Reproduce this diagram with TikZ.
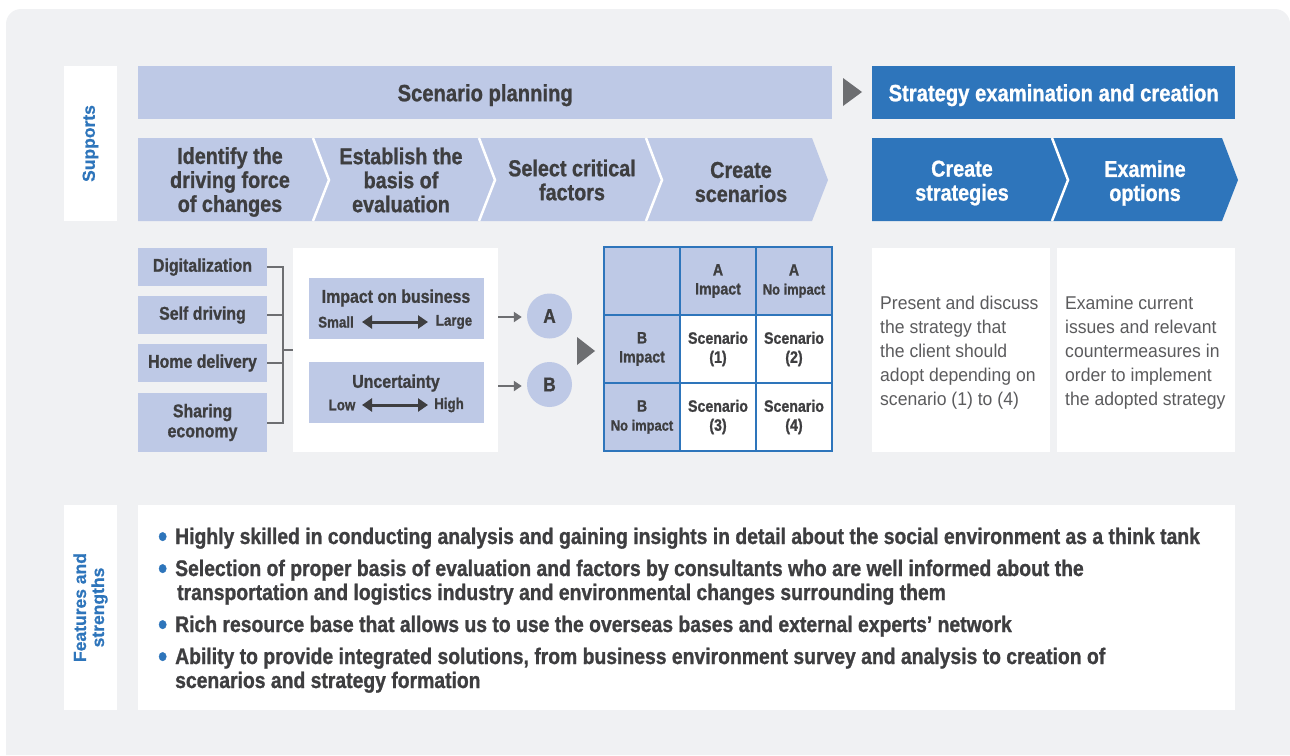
\documentclass[tikz,border=0pt]{standalone}
\usepackage{fontspec}
\setmainfont{Liberation Sans}[BoldFeatures={FakeBold=0.6}]
\newfontfamily\cnd[FakeStretch=0.86, BoldFeatures={FakeBold=1}]{Liberation Sans}
\newfontfamily\lgt[FakeStretch=0.95]{Liberation Sans}
\usetikzlibrary{arrows.meta}

\definecolor{bggrey}{HTML}{F0F1F3}
\definecolor{lav}{HTML}{BEC9E6}
\definecolor{mblue}{HTML}{2E75BB}
\definecolor{dtext}{HTML}{3E3E40}
\definecolor{agrey}{HTML}{6D6E71}

\tikzset{
  lavbox/.style={fill=lav, inner sep=0pt, text=dtext, font=\cnd\bfseries\fontsize{18.5}{20}\selectfont},
  whitebox/.style={fill=white, inner sep=0pt},
  barbox/.style={inner sep=0pt, minimum width=#1, minimum height=53, anchor=north west, text depth=0pt,
    font=\cnd\bfseries\fontsize{23.5}{24}\selectfont},
  chevtext/.style={text=dtext, align=center, font=\cnd\bfseries\fontsize{23}{24}\selectfont},
  sidelabel/.style={whitebox, rotate=90, text=mblue, align=center, font=\bfseries\fontsize{17.5}{18}\selectfont},
  cell/.style={draw=mblue, line width=1.5pt, minimum width=76, minimum height=68, inner sep=0pt,
    align=center, text=dtext, font=\cnd\bfseries\fontsize{16.5}{19}\selectfont},
  smalltext/.style={text=dtext, font=\cnd\bfseries\fontsize{15.5}{17}\selectfont},
  conn/.style={agrey, line width=2pt},
  dblarr/.style={dtext, line width=3pt, {Triangle[width=13pt,length=10pt]}-{Triangle[width=13pt,length=10pt]}},
  bullet/.style={anchor=base west, inner sep=0pt, text=dtext, font=\cnd\bfseries\fontsize{22.5}{24}\selectfont},
  desc/.style={anchor=west, inner sep=0pt, align=left, text=dtext!85, font=\lgt\fontsize{18.5}{24}\selectfont}
}
\newcommand{\dotmark}{\makebox[0pt][r]{\raisebox{-2.5pt}{\textcolor{mblue}{\fontsize{30}{30}\selectfont\textbullet}}\hspace{8pt}}}

\begin{document}
\begin{tikzpicture}[x=1pt, y=-1pt]
\useasboundingbox (0,0) rectangle (1290,755);

% background panel
\fill[bggrey] (6,755) {[rounded corners=15pt] -- (6,9) -- (1290,9)} -- (1290,755) -- cycle;

% side labels
\node[sidelabel, minimum width=155, minimum height=53] (supports) at (90.5,143.5) {Supports};
\node[sidelabel, minimum width=205, minimum height=53] (features) at (90.5,607.5) {Features and\\strengths};

% top bars
\node[barbox=694, fill=lav, text=dtext] (planning) at (138,66) {Scenario planning};
\node[barbox=363, fill=mblue, text=white] (strategy) at (872,66) {Strategy examination and creation};
\fill[agrey] (843,78) -- (862,92) -- (843,106) -- cycle;

% chevrons
\fill[lav] (138,138) -- (313,138) -- (329,180) -- (313,221) -- (138,221) -- cycle;
\fill[lav] (313,138) -- (479,138) -- (495,180) -- (479,221) -- (313,221) -- (329,180) -- cycle;
\fill[lav] (479,138) -- (646,138) -- (662,180) -- (646,221) -- (479,221) -- (495,180) -- cycle;
\fill[lav] (646,138) -- (812,138) -- (828,180) -- (812,221) -- (646,221) -- (662,180) -- cycle;
\fill[mblue] (872,138) -- (1052,138) -- (1068,180) -- (1052,221) -- (872,221) -- cycle;
\fill[mblue] (1052,138) -- (1222,138) -- (1238,180) -- (1222,221) -- (1052,221) -- (1068,180) -- cycle;
\foreach \x in {313,479,646,1052}
  \draw[white, line width=2.5pt] (\x,138) -- (\x+16,180) -- (\x,221);

\node[chevtext] (identify) at (230,182) {Identify the\\driving force\\of changes};
\node[chevtext] (establish) at (401,180) {Establish the\\basis of\\evaluation};
\node[chevtext] (select) at (572,180) {Select critical\\factors};
\node[chevtext] (create) at (741,182) {Create\\scenarios};
\node[chevtext, text=white] (createstr) at (962,183) {Create\\strategies};
\node[chevtext, text=white] (examine) at (1145,183) {Examine\\options};

% driving forces
\node[lavbox, minimum width=129, minimum height=38] (digital) at (202.5,267) {Digitalization};
\node[lavbox, minimum width=129, minimum height=38] (selfdrv) at (202.5,315) {Self driving};
\node[lavbox, minimum width=129, minimum height=38] (homedel) at (202.5,363) {Home delivery};
\node[lavbox, minimum width=129, minimum height=59, align=center] (sharing) at (202.5,422.5) {Sharing\\economy};

% basis of evaluation
\node[whitebox, minimum width=205, minimum height=204] (basis) at (395.5,350) {};
\node[lavbox, minimum width=175, minimum height=61] (impact) at (396.5,308.5) {};
\node[lavbox, minimum width=175, minimum height=61] (uncert) at (396.5,392.5) {};
\node[lavbox] (imptitle) at (396,298) {Impact on business};
\node[smalltext] (small) at (336,322) {Small};
\node[smalltext] (large) at (454,322) {Large};
\node[lavbox] (unctitle) at (396,383) {Uncertainty};
\node[smalltext] (low) at (342,405) {Low};
\node[smalltext] (high) at (449,405) {High};
\draw[dblarr] (362,322) -- (428,322);
\draw[dblarr] (362,405) -- (428,405);

\coordinate (brk) at (283,350);
\draw[conn] (digital.east) -| (brk) |- (sharing.east);
\draw[conn] (selfdrv.east) -- (selfdrv.east -| brk);
\draw[conn] (homedel.east) -- (homedel.east -| brk);
\draw[conn] (brk) -- (brk -| basis.west);

% critical factors
\node[circle, fill=lav, minimum size=45, inner sep=0pt, text=dtext,
  font=\cnd\bfseries\fontsize{20}{22}\selectfont] (facA) at (549.5,316) {A};
\node[circle, fill=lav, minimum size=45, inner sep=0pt, text=dtext,
  font=\cnd\bfseries\fontsize{20}{22}\selectfont] (facB) at (549.5,384.5) {B};
\draw[conn, -{Triangle[width=10pt,length=8pt]}, shorten >=5pt] (basis.east |- 0,317) -- (facA.west |- 0,317);
\draw[conn, -{Triangle[width=10pt,length=8pt]}, shorten >=5pt] (basis.east |- 0,386) -- (facB.west |- 0,386);
\fill[agrey] (577,337) -- (595,351) -- (577,365) -- cycle;

% scenario matrix
\node[cell, fill=lav] (m00) at (642,281) {};
\node[cell, fill=lav] (m01) at (718,281) {A\\Impact};
\node[cell, fill=lav] (m02) at (794,281) {A\\{\fontsize{15}{17}\selectfont No impact}};
\node[cell, fill=lav] (m10) at (642,349) {B\\Impact};
\node[cell, fill=white] (m11) at (718,349) {Scenario\\(1)};
\node[cell, fill=white] (m12) at (794,349) {Scenario\\(2)};
\node[cell, fill=lav] (m20) at (642,417) {B\\{\fontsize{15}{17}\selectfont No impact}};
\node[cell, fill=white] (m21) at (718,417) {Scenario\\(3)};
\node[cell, fill=white] (m22) at (794,417) {Scenario\\(4)};

% strategy descriptions
\node[whitebox, minimum width=178, minimum height=204, anchor=north west] (crbox) at (872,248) {};
\node[whitebox, minimum width=178, minimum height=204, anchor=north west] (exbox) at (1057,248) {};
\node[desc] (present) at (880,353) {Present and discuss\\the strategy that\\the client should\\adopt depending on\\scenario (1) to (4)};
\node[desc] (current) at (1065,353) {Examine current\\issues and relevant\\countermeasures in\\order to implement\\the adopted strategy};

% features and strengths
\node[whitebox, minimum width=1097, minimum height=205, anchor=north west] (strengths) at (138,505) {};
\node[bullet] (s1) at (175,544) {\dotmark Highly skilled in conducting analysis and gaining insights in detail about the social environment as a think tank};
\node[bullet] (s2) at (175,576) {\dotmark Selection of proper basis of evaluation and factors by consultants who are well informed about the};
\node[bullet] (s2b) at (177,600) {transportation and logistics industry and environmental changes surrounding them};
\node[bullet] (s3) at (175,632) {\dotmark Rich resource base that allows us to use the overseas bases and external experts’ network};
\node[bullet] (s4) at (175,664) {\dotmark Ability to provide integrated solutions, from business environment survey and analysis to creation of};
\node[bullet] (s4b) at (175,688) {scenarios and strategy formation};

\end{tikzpicture}
\end{document}
